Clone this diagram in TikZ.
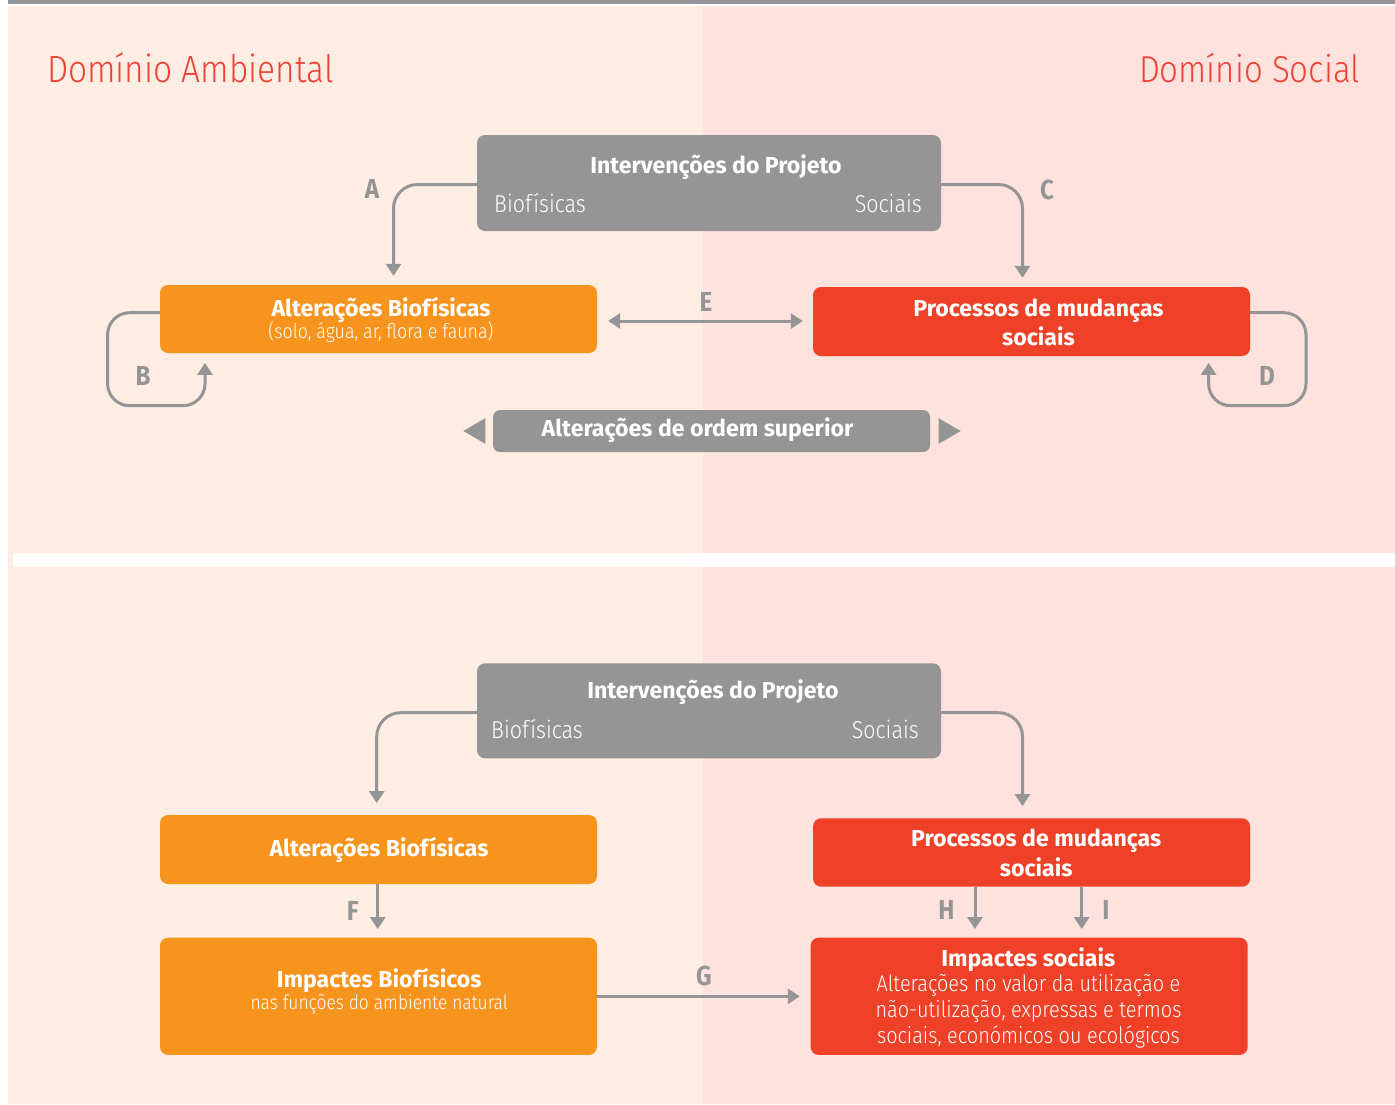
\documentclass[tikz,border=0pt]{standalone}
\usepackage{fontspec}
\setmainfont{Fira Sans}[FakeStretch=0.88]
\newfontfamily\hdfont{Fira Sans}
\newfontfamily\lightf{Fira Sans Light}[FakeStretch=0.88]
\usetikzlibrary{arrows.meta,calc}
\definecolor{bgL}{HTML}{FEEDE2}
\definecolor{bgR}{HTML}{FEE2DD}
\definecolor{gbox}{HTML}{959596}
\definecolor{obox}{HTML}{F7941E}
\definecolor{rbox}{HTML}{EF4128}
\definecolor{ttl}{HTML}{EF4136}
\definecolor{lin}{HTML}{959596}
\definecolor{topbar}{HTML}{939598}
\tikzset{
  bx/.style={rounded corners=8pt, inner sep=0pt, draw=none},
  conn/.style={draw=lin, line width=3pt, -{Triangle[length=12pt,width=15pt]}, rounded corners=24pt},
  tl/.style={inner sep=0pt, anchor=base, text=white},
  hdf/.style={font=\hdfont\bfseries\fontsize{23.1}{26}\selectfont},
  rgf/.style={font=\lightf\fontsize{24.4}{28}\selectfont},
  sbf/.style={font=\lightf\fontsize{20.3}{22}\selectfont},
  nff/.style={font=\lightf\fontsize{19.8}{22}\selectfont},
  isf/.style={font=\lightf\fontsize{22.6}{24}\selectfont},
  lbl/.style={inner sep=0pt, anchor=base, text=lin, font=\bfseries\fontsize{27.5}{30}\selectfont},
  dom/.style={inner sep=0pt, text=ttl, font=\lightf\fontsize{38}{40}\selectfont},
}
\begin{document}
\begin{tikzpicture}[x=1pt,y=-1pt]
\useasboundingbox (0,0) rectangle (1395,1104);
\fill[white] (0,0) rectangle (1395,1104);
\fill[bgL] (8,6) rectangle (703,1104);
\fill[bgR] (703,6) rectangle (1395,1104);
\fill[white] (13,553) rectangle (1395,567);
\fill[topbar] (8,0) rectangle (1395,4);

% titles
\node[dom, anchor=base west] (domA) at (47,82.7) {Domínio Ambiental};
\node[dom, anchor=base east, font=\lightf\fontsize{37.5}{40}\selectfont] (domS) at (1360,82.7) {Domínio Social};

% ---------- top diagram ----------
\node[bx, fill=gbox, minimum width=464pt, minimum height=96pt] (i1) at (709,183) {};
\node[tl, hdf] (i1t) at (716,173.3) {Intervenções do Projeto};
\node[tl, rgf, anchor=base west] (i1b) at (494,212.3) {Biofísicas};
\node[tl, rgf, anchor=base east] (i1s) at (922,212.3) {Sociais};

\node[bx, fill=obox, minimum width=437pt, minimum height=68pt] (a1) at (378.5,319) {};
\node[tl, hdf] (a1t) at (381,316) {Alterações Biofísicas};
\node[tl, sbf] (a1s) at (381,338) {(solo, água, ar, flora e fauna)};

\node[bx, fill=rbox, minimum width=437pt, minimum height=69pt] (p1) at (1031.5,321.5) {};
\node[tl, hdf] (p1t) at (1038.5,316.7) {Processos de mudanças};
\node[tl, hdf] (p1u) at (1038.5,345) {sociais};

\node[bx, fill=gbox, minimum width=437pt, minimum height=42pt, rounded corners=7pt] (o1) at (711.5,431) {};
\node[tl, hdf] (o1t) at (697.5,436.7) {Alterações de ordem superior};
\fill[gbox] ([xshift=-7.5pt,yshift=12.8pt]o1.west) -- ([xshift=-29.5pt]o1.west) -- ([xshift=-7.5pt,yshift=-12.8pt]o1.west) -- cycle;
\fill[gbox] ([xshift=8.5pt,yshift=12.8pt]o1.east) -- ([xshift=30.5pt]o1.east) -- ([xshift=8.5pt,yshift=-12.8pt]o1.east) -- cycle;

\coordinate (bL) at (107.6,405.7);
\coordinate (bR) at (205,405.7);
\coordinate (dR) at (1306,405.7);
\coordinate (dL) at (1208.6,405.7);

\draw[conn, shorten >=9pt] ([yshift=-1.5pt]i1.west) -| ([xshift=15pt]a1.north);
\draw[conn, shorten >=9pt] ([yshift=-1.5pt]i1.east) -| ([xshift=-9pt]p1.north);
\draw[conn, rounded corners=22pt, shorten >=9.7pt] ([yshift=6.3pt]a1.west) -| (bL) -- (bR) -- ([xshift=-173.5pt]a1.south);
\draw[conn, rounded corners=22pt, shorten >=6.7pt] ([yshift=8.8pt]p1.east) -| (dR) -- (dL) -- ([xshift=177.1pt]p1.south);
\draw[conn, {Triangle[length=12pt,width=15pt]}-{Triangle[length=12pt,width=15pt]}, shorten <=11pt, shorten >=10pt] ([yshift=-2pt]a1.east) -- ([yshift=-2pt]a1.east -| p1.west);

\node[lbl] (lA) at (372,198.5) {A};
\node[lbl] (lC) at (1047,199.5) {C};
\node[lbl] (lB) at (143,385) {B};
\node[lbl] (lD) at (1267,385) {D};
\node[lbl] (lE) at (706,311) {E};

% ---------- bottom diagram ----------
\node[bx, fill=gbox, minimum width=464pt, minimum height=95pt] (i2) at (709,710.8) {};
\node[tl, hdf] (i2t) at (713,698.3) {Intervenções do Projeto};
\node[tl, rgf, anchor=base west] (i2b) at (491,738.3) {Biofísicas};
\node[tl, rgf, anchor=base east] (i2s) at (919,738.3) {Sociais};

\node[bx, fill=obox, minimum width=437pt, minimum height=69pt] (a2) at (378.5,849.5) {};
\node[tl, hdf] (a2t) at (379,856.7) {Alterações Biofísicas};

\node[bx, fill=rbox, minimum width=437pt, minimum height=68.4pt] (p2) at (1031.6,852.5) {};
\node[tl, hdf] (p2t) at (1036.2,846.7) {Processos de mudanças};
\node[tl, hdf] (p2u) at (1036.2,876) {sociais};

\node[bx, fill=obox, minimum width=437pt, minimum height=117.3pt] (ib) at (378.5,996.3) {};
\node[tl, hdf] (ibt) at (379.2,987.7) {Impactes Biofísicos};
\node[tl, nff] (ibs) at (379.2,1009.3) {nas funções do ambiente natural};

\node[bx, fill=rbox, minimum width=437pt, minimum height=117.3pt] (is) at (1029.2,996.3) {};
\node[tl, hdf] (ist) at (1028.3,966.7) {Impactes sociais};
\node[tl, isf] (is1) at (1028.5,991.7) {Alterações no valor da utilização e};
\node[tl, isf] (is2) at (1028.5,1017.3) {não-utilização, expressas e termos};
\node[tl, isf] (is3) at (1028.5,1043.3) {sociais, económicos ou ecológicos};

\draw[conn, shorten >=11.7pt] ([yshift=-1.9pt]i2.west) -| ([xshift=-1.8pt]a2.north);
\draw[conn, shorten >=12pt] ([yshift=-1.9pt]i2.east) -| ([xshift=-9.1pt]p2.north);
\draw[conn, shorten >=8.4pt] ([xshift=-0.8pt]a2.south) -- ([xshift=-0.8pt]a2.south |- ib.north);
\draw[conn, shorten >=8.4pt] ([xshift=-56.6pt]p2.south) -- ([xshift=-56.6pt]p2.south |- is.north);
\draw[conn, shorten >=8.4pt] ([xshift=50.1pt]p2.south) -- ([xshift=50.1pt]p2.south |- is.north);
\draw[conn, shorten >=10.7pt] (ib.east) -- (ib.east -| is.west);

\node[lbl] (lF) at (352.8,920) {F};
\node[lbl] (lH) at (946.3,919.3) {H};
\node[lbl] (lI) at (1106,919.3) {I};
\node[lbl] (lG) at (704,985) {G};
\end{tikzpicture}
\end{document}
